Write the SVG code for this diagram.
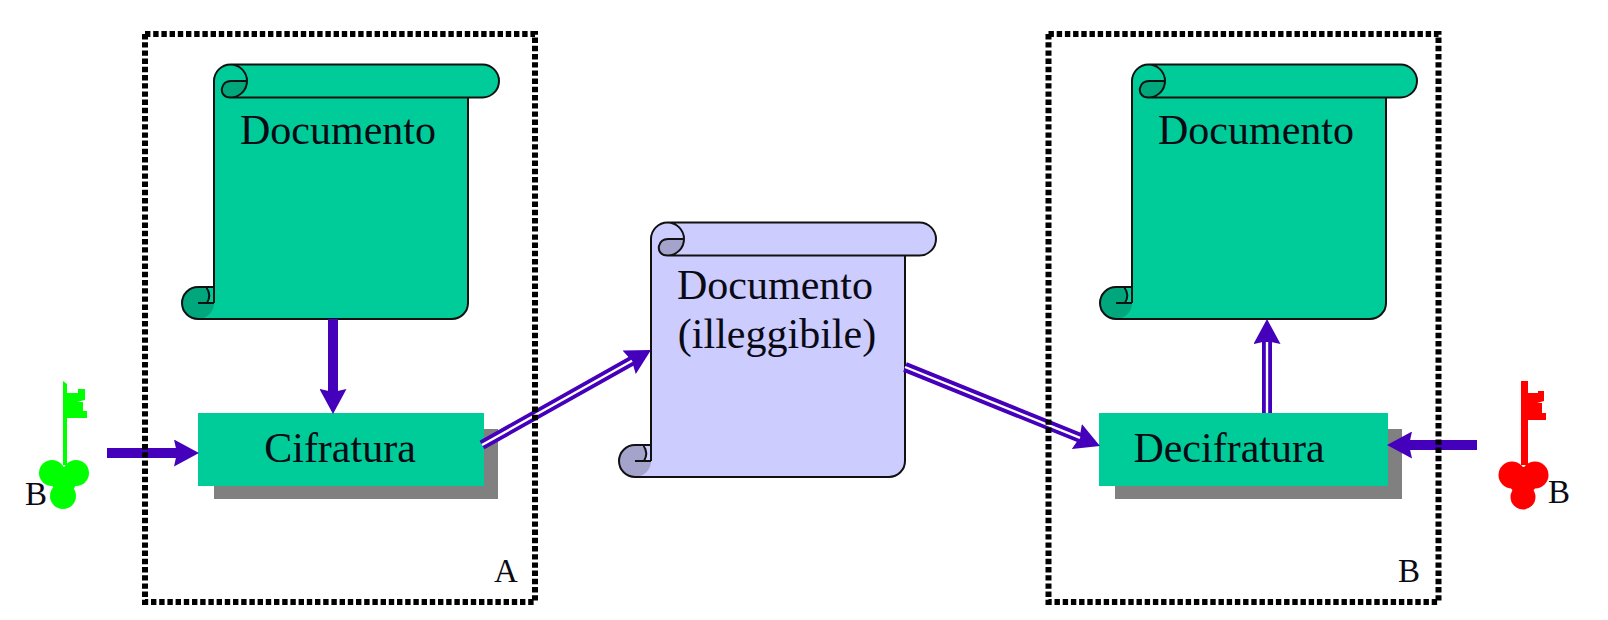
<svg xmlns="http://www.w3.org/2000/svg" width="1608" height="620" viewBox="0 0 1608 620">
<style>
text{font-family:"Liberation Serif","Times New Roman",serif;font-size:42px;fill:#0a0a14;text-anchor:middle}
.small{font-size:33px}
.ln{fill:none;stroke:#111;stroke-width:2}
.frame{fill:none;stroke:#000;stroke-width:6;stroke-dasharray:5.4 2.8}
.rect{fill:#00CC99}
.shadow{fill:#808080}
.solid{stroke:#4400BB;stroke-width:10;fill:none}
.gap{stroke:#fff;stroke-width:2.4;fill:none}
.gr{fill:#00CC99}.grd{fill:#00A67C}
.li{fill:#CCCCFF}.lid{fill:#A3A3CC}
</style>
<defs>
<marker id="head" markerUnits="userSpaceOnUse" markerWidth="26" markerHeight="27" refX="3" refY="13.5" orient="auto"><path d="M0,0 L25,13.5 L0,27 L3,13.5 Z" fill="#4400BB"/></marker>
<path id="scrollOutline" class="ln" d="M214,303 V81 A16.5,16.5 0 0 1 247,81 A16.5,16.5 0 0 1 230.5,97.5 C224,97.5 221,93 222,88 C223,84 226,81 231,81 H247 M230.5,64.5 H482.5 A16.5,16.5 0 0 1 482.5,97.5 H230.5 M468,97.5 V303 A16,16 0 0 1 452,319 H198 A16,16 0 0 1 198,287 H214 M206,287 C210,292 210,298 207,303 M198,303 H214"/>
<path id="scrollBody" d="M214,81 A16.5,16.5 0 0 1 230.5,64.5 H482.5 A16.5,16.5 0 0 1 482.5,97.5 H468 V303 A16,16 0 0 1 452,319 H198 V287 H214 Z"/>
<path id="scrollPatch" d="M206,287 H214 V303 H207 C210,298 210,292 206,287 Z"/>
<path id="scrollCurls" d="M247,81 A16.5,16.5 0 0 1 230.5,97.5 C224,97.5 221,93 222,88 C223,84 226,81 231,81 Z M182,303 A16,16 0 1 1 214,303 A16,16 0 1 1 182,303 Z"/>
</defs>

<g id="doc-left">
<use href="#scrollBody" class="gr"/>
<use href="#scrollCurls" class="grd"/>
<use href="#scrollPatch" class="gr"/>
<use href="#scrollOutline"/>
<text x="338" y="144">Documento</text>
</g>

<g id="doc-right" transform="translate(918,0)">
<use href="#scrollBody" class="gr"/>
<use href="#scrollCurls" class="grd"/>
<use href="#scrollPatch" class="gr"/>
<use href="#scrollOutline"/>
<text x="338" y="144">Documento</text>
</g>

<g id="doc-middle" transform="translate(437,158)">
<use href="#scrollBody" class="li"/>
<use href="#scrollCurls" class="lid"/>
<use href="#scrollPatch" class="li"/>
<use href="#scrollOutline"/>
<text x="338" y="141">Documento</text>
<text x="340" y="190">(illeggibile)</text>
</g>

<g id="cifratura">
<rect class="shadow" x="214" y="429" width="284" height="70"/>
<rect class="rect" x="198" y="413" width="286" height="73"/>
<text x="340" y="462">Cifratura</text>
</g>
<g id="decifratura">
<rect class="shadow" x="1115" y="429" width="287" height="70"/>
<rect class="rect" x="1099" y="413" width="289" height="73"/>
<text x="1229" y="462">Decifratura</text>
</g>

<g id="connectors">
<line class="solid" x1="107" y1="453" x2="177" y2="453" marker-end="url(#head)"/>
<line class="solid" x1="1477" y1="445" x2="1409" y2="445" marker-end="url(#head)"/>
<line class="solid" x1="333" y1="319" x2="333" y2="392" marker-end="url(#head)"/>
<line class="solid" x1="1267" y1="413" x2="1267" y2="341" marker-end="url(#head)"/>
<line class="gap" x1="1267" y1="413" x2="1267" y2="342"/>
<line class="solid" x1="482" y1="445" x2="631.8" y2="360.8" marker-end="url(#head)"/>
<line class="gap" x1="482" y1="445" x2="632" y2="360.7"/>
<line class="solid" x1="905" y1="367" x2="1079.6" y2="437.7" marker-end="url(#head)"/>
<line class="gap" x1="905" y1="367" x2="1080" y2="437.9"/>
</g>

<g id="frame-a"><rect class="frame" x="145" y="34" width="390" height="568"/><text class="small" x="506" y="582">A</text></g>
<g id="frame-b"><rect class="frame" x="1048.5" y="34" width="390" height="568"/><text class="small" x="1409" y="582">B</text></g>

<g id="key-green" fill="#00FF00">
<polygon points="63,381 67,384 67,393 78,393 78,389 85,389 85,400 77,402 83,402 83,411 87,411 87,418 67,418 67,465 63,465"/>
<circle cx="52" cy="473" r="13"/><circle cx="76" cy="473" r="13"/><circle cx="63" cy="496" r="13"/><circle cx="64" cy="480" r="13"/>
<text class="small" x="36" y="505">B</text>
</g>
<g id="key-red" fill="#FF0000">
<polygon points="1521,381 1528,381 1528,393 1538,393 1538,391 1544,391 1544,401 1537,403 1542,403 1542,413 1546,413 1546,420 1528,420 1528,465 1521,465"/>
<circle cx="1512" cy="475" r="13.5"/><circle cx="1535" cy="475" r="13.5"/><circle cx="1523" cy="497" r="12.5"/><circle cx="1523" cy="481" r="14"/>
<text class="small" x="1559" y="503">B</text>
</g>
</svg>
